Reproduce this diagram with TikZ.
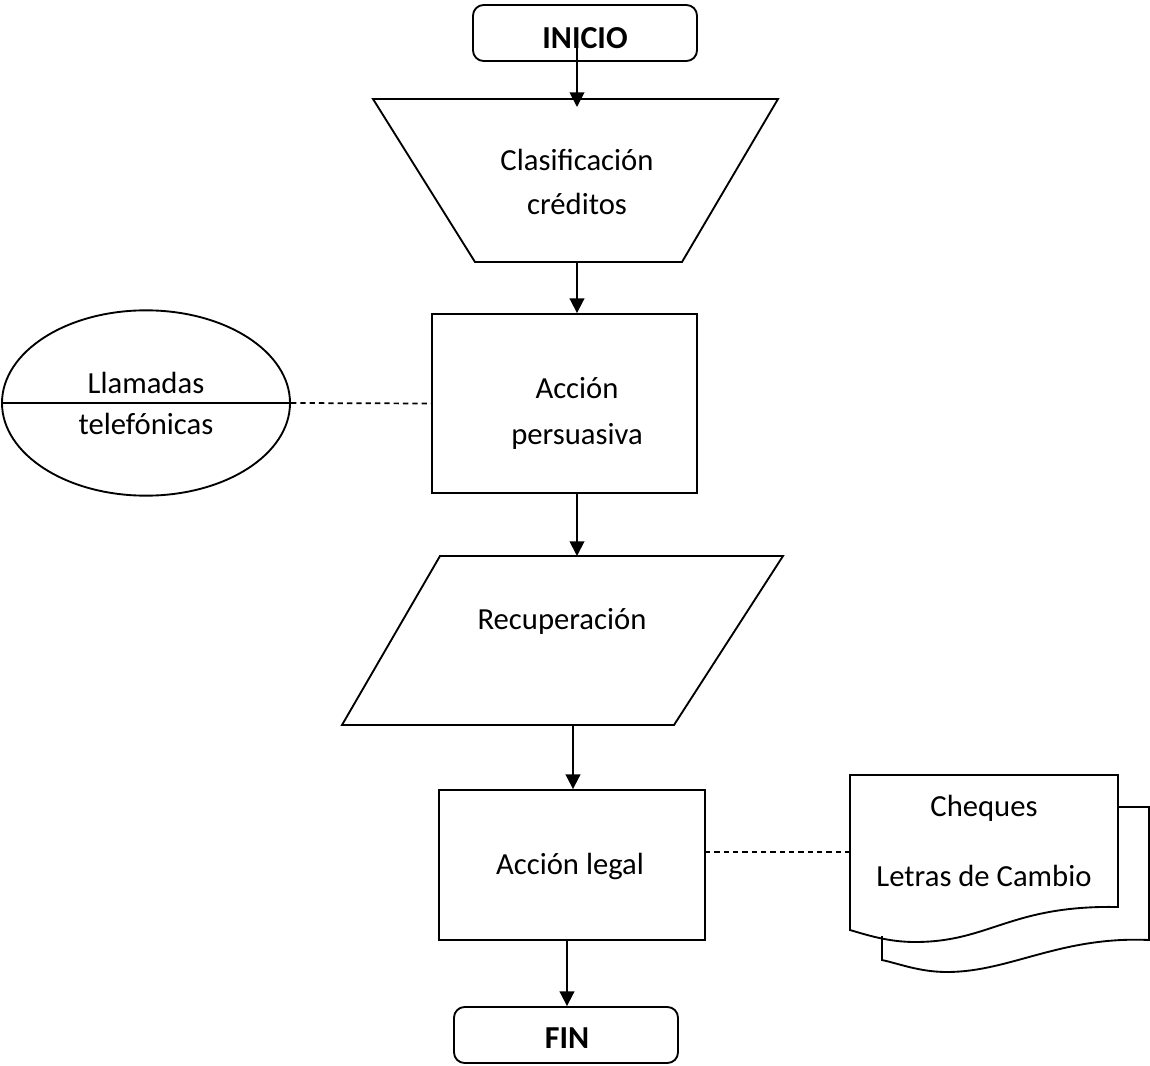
\documentclass[tikz,border=0pt]{standalone}
\usepackage{fontspec}
\setmainfont{Carlito}
\usetikzlibrary{arrows.meta,shapes.geometric}

\tikzset{
  flow/.style={-{Triangle[length=11pt,width=11pt]}, line width=1.4pt},
  link/.style={line width=1.3pt, dash pattern=on 4pt off 3pt},
  term/.style={draw, line width=1.4pt, rounded corners=8pt, minimum width=168pt,
    minimum height=42pt},
  termtxt/.style={font=\fontsize{24}{29}\selectfont\bfseries, inner sep=0pt},
  box/.style={draw, line width=1.4pt},
  txt/.style={font=\fontsize{23}{28}\selectfont, inner sep=0pt}
}

\begin{document}
\begin{tikzpicture}[x=0.75pt,y=-0.75pt]
        \useasboundingbox (0,0) rectangle (1150,1066);

        % terminales
        \node[term] (inicio) at (585,33) {};
        \node[termtxt] (inicio-t) at (585,38) {INICIO};
        \node[term] (fin) at (566,1035) {};
        \node[termtxt] (fin-t) at (567,1038) {FIN};

        % clasificacion
        \draw[line width=1.4pt] (373,99) -- (778,99) -- (682,262) -- (475,262) -- cycle;
        \coordinate (clas-in) at (577,99);
        \coordinate (clas-out) at (577,262);
        \node[txt] (clas1) at (577,160) {Clasificación};
        \node[txt] (clas2) at (577,204) {créditos};

        % accion persuasiva
        \node[box, minimum width=198.75pt, minimum height=134.25pt] (pers) at (564.5,403.5) {};
        \node[txt] (pers1) at (577,388) {Acción};
        \node[txt] (pers2) at (577,436) {persuasiva};

        % llamadas
        \node[draw, ellipse, line width=1.4pt, minimum width=216pt, minimum height=139pt,
          inner sep=0pt] (llam) at (146,403) {};
        \draw[line width=1.4pt] (llam.west) -- (llam.east);
        \node[txt] (llam1) at (146,383) {Llamadas};
        \node[txt] (llam2) at (146,424) {telefónicas};

        % recuperacion
        \draw[line width=1.4pt] (440,556) -- (783,556) -- (674,725) -- (342,725) -- cycle;
        \coordinate (recu-in) at (577,556);
        \coordinate (recu-out) at (573,725);
        \node[txt] (recu) at (562,621) {Recuperación};

        % accion legal
        \node[box, minimum width=199.5pt, minimum height=112.5pt] (legal) at (572,865) {};
        \node[txt] (legal1) at (570,866) {Acción legal};
        \coordinate (legal-e) at (705,852);

        % documentos
        \draw[line width=1.4pt] (1118,807) -- (1149,807) -- (1149,940)
          .. controls (1060,936) and (1010,972) .. (947,972)
          .. controls (920,972) and (900,964) .. (882,960) -- (882,936);
        \draw[line width=1.4pt] (850,775) -- (1118,775) -- (1118,907)
          .. controls (1010,905) and (990,942) .. (915,942)
          .. controls (890,942) and (870,936) .. (850,930) -- cycle;
        \coordinate (docs-w) at (850,852);
        \node[txt] (docs1) at (984,808) {Cheques};
        \node[txt] (docs2) at (984,876) {Letras de Cambio};

        % conectores
        \draw[flow] (577,47) -- (clas-in |- 0,107);
        \draw[flow] (clas-out) -- (pers.north -| clas-out);
        \draw[flow] (pers.south -| clas-out) -- (recu-in);
        \draw[flow] (recu-out) -- (legal.north -| recu-out);
        \draw[flow] (legal.south -| fin-t) -- (fin.north -| fin-t);
        \draw[link] (llam.east) -- (pers.west);
        \draw[link] (legal-e) -- (docs-w);

\end{tikzpicture}
\end{document}
